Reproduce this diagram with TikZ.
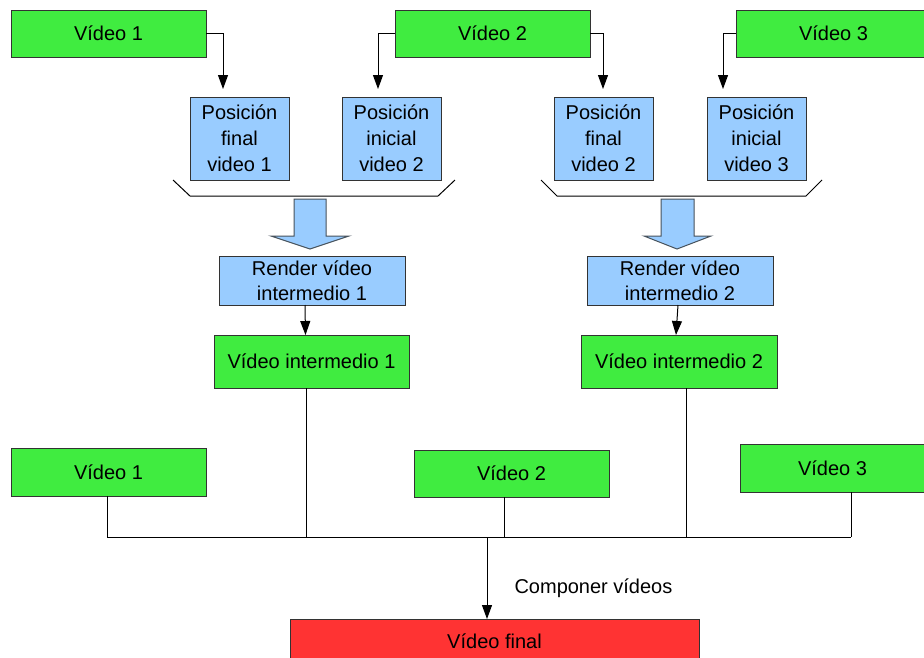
\documentclass[tikz,border=0pt]{standalone}
\usepackage{fontspec}
\setmainfont{Liberation Sans}
\usetikzlibrary{arrows.meta}

\definecolor{vgreen}{RGB}{64,236,64}
\definecolor{vblue}{RGB}{153,204,255}
\definecolor{vred}{RGB}{255,51,51}
\definecolor{edge}{RGB}{51,51,51}

\tikzset{
  box/.style={draw=edge, line width=1pt, inner sep=0pt, outer sep=0pt,
    anchor=north west, align=center,
    font=\fontsize{20}{26}\selectfont},
  vid/.style={box, fill=vgreen},
  posbox/.style={box, fill=vblue, minimum width=99pt, minimum height=83pt},
  rend/.style={box, fill=vblue, minimum width=186pt, minimum height=49pt,
    font=\fontsize{20}{25}\selectfont},
  fin/.style={box, fill=vred},
  link/.style={line width=1pt, black},
  arr/.style={link, -{Triangle[width=10pt,length=14pt]}},
  brace/.style={line width=1pt, black},
  bigarrow/.style={fill=vblue, draw=edge!80!vblue, line width=1pt, line join=miter}
}

\begin{document}
\begin{tikzpicture}[x=1pt, y=-1pt]
  \clip (0,0) rectangle (924,657);
  \fill[white] (0,0) rectangle (924,657);

  % source clips, top row
  \node[vid, minimum width=195pt, minimum height=47pt] (v1) at (11,10) {Vídeo 1};
  \node[vid, minimum width=195pt, minimum height=47pt] (v2) at (395,10) {Vídeo 2};
  \node[vid, minimum width=195pt, minimum height=47pt] (v3) at (736,10) {Vídeo 3};

  % cut positions
  \node[posbox] (pf1) at (190,97) {Posición\\final\\video 1};
  \node[posbox] (pi2) at (342,97) {Posición\\inicial\\video 2};
  \node[posbox] (pf2) at (554,97) {Posición\\final\\video 2};
  \node[posbox] (pi3) at (707,97) {Posición\\inicial\\video 3};

  % clip -> position links (tips stop just above the boxes)
  \coordinate (t1) at (223,89);
  \coordinate (t2) at (378,89);
  \coordinate (t3) at (603,89);
  \coordinate (t4) at (723,89);
  \draw[arr] (v1.east) -| (t1);
  \draw[arr] (v2.west) -| (t2);
  \draw[arr] (v2.east) -| (t3);
  \draw[arr] (v3.west) -| (t4);

  % grouping braces
  \coordinate (b1a) at (173,180); \coordinate (b1b) at (190,196);
  \coordinate (b1c) at (438,196); \coordinate (b1d) at (455,180);
  \draw[brace] (b1a) -- (b1b) -- (b1c) -- (b1d);
  \coordinate (b2a) at (541,180); \coordinate (b2b) at (557,196);
  \coordinate (b2c) at (806,196); \coordinate (b2d) at (822,180);
  \draw[brace] (b2a) -- (b2b) -- (b2c) -- (b2d);

  % render steps
  \node[rend] (r1) at (219,256) {Render vídeo\\intermedio 1};
  \node[rend] (r2) at (587,256) {Render vídeo\\intermedio 2};

  % block arrows
  \draw[bigarrow] (294,199) -- (326,199) -- (326,236) -- (349,236)
    -- (310,249) -- (271,236) -- (294,236) -- cycle;
  \draw[bigarrow] (661,199) -- (694,199) -- (694,236) -- (711,236)
    -- (677,249) -- (644,236) -- (661,236) -- cycle;

  % intermediate clips
  \node[vid, minimum width=195pt, minimum height=53pt] (vi1) at (214,335) {Vídeo intermedio 1};
  \node[vid, minimum width=196pt, minimum height=53pt] (vi2) at (581,335) {Vídeo intermedio 2};

  \draw[arr] ([xshift=-7pt]r1.south) -- ([xshift=-6pt]vi1.north);
  \draw[arr] ([xshift=-2pt]r2.south) -- ([xshift=-3pt]vi2.north);

  % source clips, bottom row
  \node[vid, minimum width=195pt, minimum height=48pt] (w1) at (11,448) {Vídeo 1};
  \node[vid, minimum width=195pt, minimum height=47pt] (w2) at (414,450) {Vídeo 2};
  \node[vid, minimum width=185pt, minimum height=48pt] (w3) at (740,444) {Vídeo 3};

  % composition bus
  \coordinate (busL) at (107,537);
  \coordinate (busR) at (851,537);
  \coordinate (busM) at (487,537);
  \draw[link] (busL) -- (busR);
  \draw[link] (w1.south -| busL) -- (busL);
  \draw[link] ([xshift=-5pt]vi1.south) -- ([xshift=-5pt]vi1.south |- busL);
  \draw[link] ([xshift=-7pt]w2.south) -- ([xshift=-7pt]w2.south |- busL);
  \draw[link] ([xshift=7pt]vi2.south) -- ([xshift=7pt]vi2.south |- busL);
  \draw[link] (w3.south -| busR) -- (busR);

  % final output
  \node[fin, minimum width=409pt, minimum height=44pt] (vf) at (290,619) {Vídeo final};
  \draw[arr] (busM) -- (busM |- vf.north);
  \node[font=\fontsize{20}{24}\selectfont, anchor=west] (comp) at (511,588) {Componer vídeos};
\end{tikzpicture}
\end{document}
